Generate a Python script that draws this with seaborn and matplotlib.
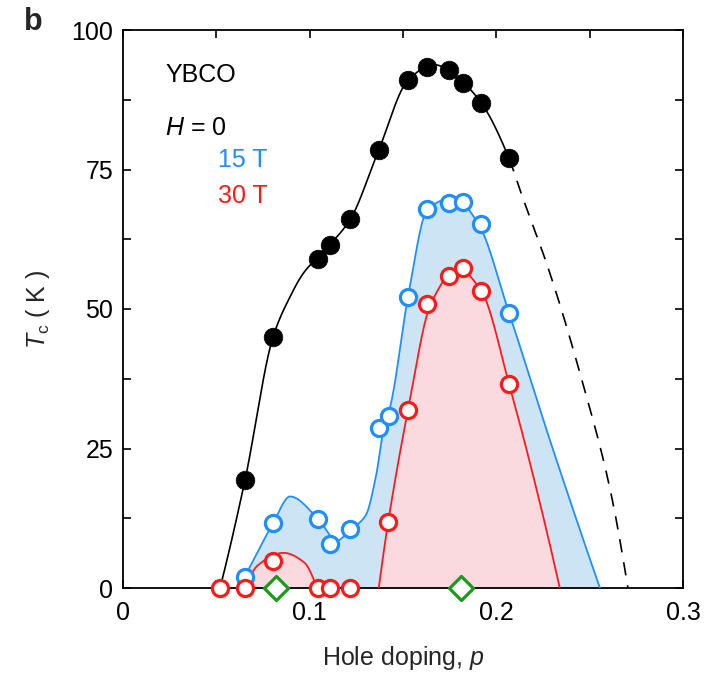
import numpy as np
import pandas as pd
import matplotlib
matplotlib.use("Agg")
import matplotlib.pyplot as plt
import seaborn as sns
from matplotlib.ticker import MultipleLocator

# ---- data ----
p_h0 = [0.0654, 0.0804, 0.1045, 0.111, 0.1216, 0.137, 0.1527, 0.163, 0.1746, 0.182, 0.192, 0.2068]
tc_h0 = [19.4, 45.0, 59.0, 61.5, 66.1, 78.5, 91.0, 93.4, 92.8, 90.5, 86.9, 77.0]

p_15 = [0.0654, 0.0804, 0.1045, 0.111, 0.1216, 0.137, 0.1425, 0.1527, 0.163, 0.1746, 0.182, 0.192, 0.2068]
tc_15 = [2.0, 11.6, 12.4, 7.9, 10.6, 28.7, 30.8, 52.2, 67.9, 69.0, 69.2, 65.2, 49.3]

p_30 = [0.052, 0.0654, 0.0804, 0.1045, 0.111, 0.1216, 0.142, 0.1527, 0.163, 0.1746, 0.182, 0.192, 0.2068]
tc_30 = [0.0, 0.0, 4.8, 0.0, 0.0, 0.0, 11.8, 31.9, 50.9, 55.9, 57.3, 53.2, 36.6]

p_diamond = [0.082, 0.181]
tc_diamond = [0.0, 0.0]

# guide-curve knots
k_h0_p = [0.052, 0.0654, 0.0804, 0.0895, 0.0966, 0.1045, 0.1216, 0.137, 0.1527, 0.1665, 0.182, 0.192, 0.2068,
          0.2127, 0.2287, 0.2448, 0.261, 0.2705]
k_h0_t = [0.0, 19.4, 45.0, 52.2, 56.4, 59.4, 66.0, 78.5, 91.0, 93.8, 90.6, 86.9, 77.0,
          71.3, 56.4, 38.5, 17.6, 0.0]
h0_solid_end = 0.2068

k_15_p = [0.0616, 0.0654, 0.0804, 0.0895, 0.1045, 0.1146, 0.1216, 0.13, 0.1355, 0.1395, 0.1435, 0.1527, 0.163,
          0.177, 0.19, 0.2068, 0.2287, 0.2555]
k_15_t = [0.0, 2.2, 11.6, 16.4, 12.4, 8.5, 10.4, 13.0, 20.0, 28.3, 33.0, 52.2, 67.7,
          70.0, 65.5, 49.3, 26.5, 0.0]

k_30a_p = [0.0655, 0.072, 0.086, 0.097, 0.104]
k_30a_t = [0.0, 4.0, 6.3, 4.6, 0.0]

k_30b_p = [0.137, 0.142, 0.1527, 0.165, 0.1795, 0.192, 0.2068, 0.234]
k_30b_t = [0.0, 11.7, 31.9, 51.0, 57.2, 53.2, 36.6, 0.0]

xticks = [0, 0.1, 0.2, 0.3]
xticklabels = ["0", "0.1", "0.2", "0.3"]
yticks = [0, 25, 50, 75, 100]

# ---- colours ----
BLUE = "#1f8fff"
RED = "#ff1a1a"
BLUE_FILL = "#cce4f4"
RED_FILL = "#fadadf"
GREEN = "#1a9a1a"


def pchip(x, y, xx):
    """Shape-preserving piecewise cubic Hermite interpolation (Fritsch-Carlson)."""
    x = np.asarray(x, float)
    y = np.asarray(y, float)
    h = np.diff(x)
    d = np.diff(y) / h
    n = len(x)
    m = np.zeros(n)
    for k in range(1, n - 1):
        if d[k - 1] * d[k] > 0:
            w1 = 2 * h[k] + h[k - 1]
            w2 = h[k] + 2 * h[k - 1]
            m[k] = (w1 + w2) / (w1 / d[k - 1] + w2 / d[k])

    def end(h0, h1, d0, d1):
        mm = ((2 * h0 + h1) * d0 - h0 * d1) / (h0 + h1)
        if np.sign(mm) != np.sign(d0):
            mm = 0.0
        elif np.sign(d0) != np.sign(d1) and abs(mm) > abs(3 * d0):
            mm = 3 * d0
        return mm

    m[0] = end(h[0], h[1], d[0], d[1])
    m[-1] = end(h[-1], h[-2], d[-1], d[-2])
    idx = np.clip(np.searchsorted(x, xx) - 1, 0, n - 2)
    t = (xx - x[idx]) / h[idx]
    h00 = 2 * t ** 3 - 3 * t ** 2 + 1
    h10 = t ** 3 - 2 * t ** 2 + t
    h01 = -2 * t ** 3 + 3 * t ** 2
    h11 = t ** 3 - t ** 2
    return h00 * y[idx] + h10 * h[idx] * m[idx] + h01 * y[idx + 1] + h11 * h[idx] * m[idx + 1]


def smooth_curve(px, ty, n=800):
    xx = np.linspace(px[0], px[-1], n)
    return xx, pchip(px, ty, xx)


# ---- figure ----
sns.set_theme(style="ticks")
plt.rcParams["font.family"] = ["Liberation Sans", "DejaVu Sans"]
plt.rcParams["mathtext.fontset"] = "custom"
plt.rcParams["mathtext.rm"] = "Liberation Sans"
plt.rcParams["mathtext.it"] = "Liberation Sans:italic"

FS = 18

fig = plt.figure(figsize=(7.2, 6.73), dpi=100)
ax = fig.add_axes([123 / 720, 1 - 588 / 673, 560 / 720, 558 / 673])

# fills + guide curves
bx, by = smooth_curve(k_15_p, k_15_t)
ax.fill_between(bx, by, 0, color=BLUE_FILL, lw=0, zorder=1)
ax.plot(bx, by, color=BLUE, lw=1.3, zorder=3)

for kp, kt in [(k_30a_p, k_30a_t), (k_30b_p, k_30b_t)]:
    rx, ry = smooth_curve(kp, kt)
    ax.fill_between(rx, ry, 0, color=RED_FILL, lw=0, zorder=2)
    ax.plot(rx, ry, color=RED, lw=1.3, zorder=3)

hx, hy = smooth_curve(k_h0_p, k_h0_t, n=1200)
solid = hx <= h0_solid_end
df_solid = pd.DataFrame({"p": hx[solid], "tc": hy[solid]})
df_dash = pd.DataFrame({"p": hx[~solid], "tc": hy[~solid]})
sns.lineplot(data=df_solid, x="p", y="tc", sort=False, estimator=None, color="black", lw=1.2, ax=ax, zorder=3)
ax.plot(df_dash["p"], df_dash["tc"], color="black", lw=1.2, ls=(0, (8, 6)), zorder=3)

# markers
df0 = pd.DataFrame({"p": p_h0, "tc": tc_h0})
df15 = pd.DataFrame({"p": p_15, "tc": tc_15})
df30 = pd.DataFrame({"p": p_30, "tc": tc_30})
dfd = pd.DataFrame({"p": p_diamond, "tc": tc_diamond})

sns.scatterplot(data=df0, x="p", y="tc", s=180, color="black", edgecolor="black", linewidth=0.5,
                ax=ax, zorder=6, clip_on=False)
sns.scatterplot(data=df15, x="p", y="tc", s=135, facecolor="white", edgecolor=BLUE, linewidth=2.3,
                ax=ax, zorder=5, clip_on=False)
sns.scatterplot(data=df30, x="p", y="tc", s=135, facecolor="white", edgecolor=RED, linewidth=2.3,
                ax=ax, zorder=5, clip_on=False)
sns.scatterplot(data=dfd, x="p", y="tc", s=150, marker="D", facecolor="white", edgecolor=GREEN, linewidth=2.3,
                ax=ax, zorder=7, clip_on=False)

# axes
ax.set_xlim(0, 0.3)
ax.set_ylim(0, 100)
ax.set_xticks(xticks)
ax.set_xticklabels(xticklabels)
ax.set_yticks(yticks)
ax.xaxis.set_minor_locator(MultipleLocator(0.05))
ax.yaxis.set_minor_locator(MultipleLocator(12.5))
ax.tick_params(which="both", direction="in", top=True, right=True, labelsize=FS, width=1.2, colors="black")
ax.tick_params(which="major", length=6)
ax.tick_params(which="minor", length=6)
ax.tick_params(axis="x", which="major", pad=9)
ax.tick_params(axis="y", which="major", pad=7)
for sp in ax.spines.values():
    sp.set_linewidth(1.3)
    sp.set_color("black")

ax.set_xlabel("Hole doping, $\\mathit{p}$", fontsize=FS, labelpad=14)
ax.set_ylabel("$\\mathit{T}_{\\mathrm{c}}$ ( K )", fontsize=FS, labelpad=14)

ax.text(0.0225, 91.9, "YBCO", fontsize=FS, va="center", ha="left", color="black")
ax.text(0.0225, 82.4, "$\\mathit{H}$ = 0", fontsize=FS, va="center", ha="left", color="black")
ax.text(0.0509, 76.7, "15 T", fontsize=FS, va="center", ha="left", color=BLUE)
ax.text(0.0509, 70.3, "30 T", fontsize=FS, va="center", ha="left", color=RED)

fig.text(24 / 720, 1 - 22 / 673, "b", fontsize=22, fontweight="bold", va="center", ha="left")

fig.savefig("out.png", dpi=100)
